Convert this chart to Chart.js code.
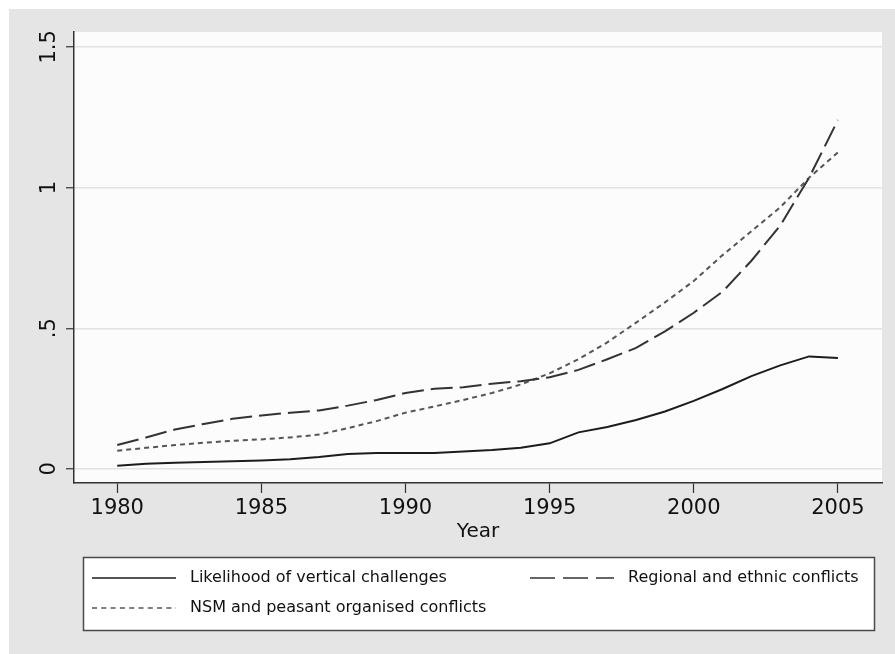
<!DOCTYPE html>
<html lang="en">
<head>
  <meta charset="UTF-8">
  <title>Conflict likelihood by year</title>
  <script src="https://cdn.jsdelivr.net/npm/chart.js@4.4.1/dist/chart.umd.min.js"></script>
  <style>
    html, body {
      margin: 0;
      padding: 0;
      background: #ffffff;
    }
    canvas {
      display: block;
    }
  </style>
</head>
<body>
  <canvas id="chart" width="895" height="654"></canvas>
  <script>
    const years = [1980, 1981, 1982, 1983, 1984, 1985, 1986, 1987, 1988, 1989, 1990, 1991, 1992,
                   1993, 1994, 1995, 1996, 1997, 1998, 1999, 2000, 2001, 2002, 2003, 2004, 2005];

    const vertical = [0.011, 0.018, 0.022, 0.025, 0.027, 0.030, 0.034, 0.042, 0.053, 0.057, 0.057, 0.057, 0.062,
                      0.067, 0.075, 0.091, 0.130, 0.149, 0.174, 0.204, 0.242, 0.284, 0.330, 0.368, 0.400, 0.394];

    const regional = [0.085, 0.112, 0.140, 0.160, 0.178, 0.190, 0.200, 0.208, 0.225, 0.245, 0.270, 0.285, 0.290,
                      0.303, 0.312, 0.326, 0.352, 0.390, 0.430, 0.489, 0.555, 0.630, 0.740, 0.865, 1.035, 1.240];

    const nsm = [0.065, 0.075, 0.085, 0.093, 0.100, 0.105, 0.112, 0.122, 0.145, 0.170, 0.200, 0.222, 0.245,
                 0.270, 0.300, 0.340, 0.390, 0.450, 0.520, 0.592, 0.668, 0.760, 0.845, 0.930, 1.035, 1.125];

    const xTicks = [1980, 1985, 1990, 1995, 2000, 2005];
    const yTicks = [0, 0.5, 1, 1.5];
    const yTickLabels = ['0', '.5', '1', '1.5'];

    const seriesNames = ['Likelihood of vertical challenges', 'Regional and ethnic conflicts',
                         'NSM and peasant organised conflicts'];

    const FONT = '"DejaVu Sans", "Liberation Sans", sans-serif';

    function points(vals) {
      return years.map((yr, i) => ({ x: yr, y: vals[i] }));
    }

    // grey page, white plot region
    const backdrop = {
      id: 'backdrop',
      beforeDraw(chart) {
        const c = chart.ctx;
        const a = chart.chartArea;
        c.save();
        c.fillStyle = '#ffffff';
        c.fillRect(0, 0, chart.width, chart.height);
        c.fillStyle = '#e5e5e5';
        c.fillRect(9, 9, chart.width - 9, chart.height - 9);
        c.fillStyle = '#fcfcfc';
        c.fillRect(a.left, a.top, a.right - a.left, a.bottom - a.top);
        c.restore();
      }
    };

    // stata style legend box below the axis
    const boxLegend = {
      id: 'boxLegend',
      afterDraw(chart) {
        const c = chart.ctx;
        const ds = chart.data.datasets;
        const slots = [
          { x: 92, y: 578 },
          { x: 530, y: 578 },
          { x: 92, y: 608 }
        ];
        c.save();
        c.fillStyle = '#ffffff';
        c.fillRect(83, 557, 792, 74);
        c.strokeStyle = '#4a4a4a';
        c.lineWidth = 1.5;
        c.strokeRect(83.5, 557.5, 791, 73);
        ds.forEach((d, i) => {
          const s = slots[i];
          c.beginPath();
          c.setLineDash(d.legendDash);
          c.strokeStyle = d.borderColor;
          c.lineWidth = 1.6;
          c.moveTo(s.x, s.y);
          c.lineTo(s.x + 84, s.y);
          c.stroke();
          c.setLineDash([]);
          c.fillStyle = '#111111';
          c.font = '16px ' + FONT;
          c.textBaseline = 'middle';
          c.textAlign = 'left';
          c.fillText(d.label, s.x + 98, s.y);
        });
        c.restore();
      }
    };

    const ctx = document.getElementById('chart').getContext('2d');
    const chart = new Chart(ctx, {
      type: 'line',
      data: {
        datasets: [{
          label: seriesNames[0],
          data: points(vertical),
          borderColor: '#1c1c1c',
          borderWidth: 2,
          legendDash: [],
          pointRadius: 0,
          tension: 0
        }, {
          label: seriesNames[1],
          data: points(regional),
          borderColor: '#333333',
          borderWidth: 2,
          borderDash: [22, 7],
          legendDash: [25, 8],
          pointRadius: 0,
          tension: 0
        }, {
          label: seriesNames[2],
          data: points(nsm),
          borderColor: '#555555',
          borderWidth: 2,
          borderDash: [5, 4],
          legendDash: [5, 4.3],
          pointRadius: 0,
          tension: 0
        }]
      },
      options: {
        responsive: false,
        animation: false,
        layout: {
          padding: { top: 32, right: 13, left: 0, bottom: 0 }
        },
        plugins: {
          legend: { display: false },
          tooltip: { enabled: false }
        },
        scales: {
          x: {
            type: 'linear',
            min: 1978.5,
            max: 2006.53,
            afterBuildTicks: (scale) => { scale.ticks = xTicks.map(v => ({ value: v })); },
            afterFit: (scale) => { scale.height = 171; },
            ticks: {
              color: '#111111',
              font: { family: FONT, size: 21 },
              padding: 3,
              maxRotation: 0,
              callback: (v) => String(v)
            },
            grid: {
              drawOnChartArea: false,
              tickLength: 10,
              tickColor: '#333333',
              tickWidth: 1.2
            },
            border: { display: true, color: '#333333', width: 1.5 },
            title: {
              display: true,
              text: 'Year',
              color: '#111111',
              font: { family: FONT, size: 20 },
              padding: { top: 0, bottom: 110 }
            }
          },
          y: {
            type: 'linear',
            min: -0.05,
            max: 1.553,
            afterBuildTicks: (scale) => { scale.ticks = yTicks.map(v => ({ value: v })); },
            afterFit: (scale) => { scale.width = 74; },
            ticks: {
              color: '#111111',
              font: { family: FONT, size: 21 },
              padding: 0,
              minRotation: 90,
              maxRotation: 90,
              crossAlign: 'center',
              callback: (v) => yTickLabels[yTicks.indexOf(v)]
            },
            grid: {
              color: '#e2e2e2',
              lineWidth: 1.5,
              tickLength: 8,
              tickColor: '#333333',
              tickWidth: 1.2
            },
            border: { display: true, color: '#333333', width: 1.5 }
          }
        }
      },
      plugins: [backdrop, boxLegend]
    });
  </script>
</body>
</html>
